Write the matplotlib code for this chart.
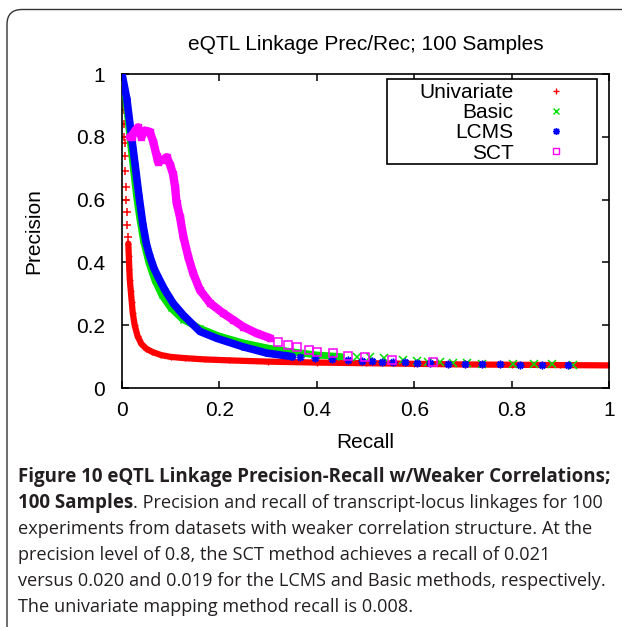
import matplotlib
matplotlib.use('Agg')
import matplotlib.pyplot as plt
from matplotlib.lines import Line2D
from matplotlib.patches import FancyBboxPatch, Rectangle
from matplotlib.transforms import IdentityTransform

# ==============================================================================
# DATA
# ==============================================================================
series_names = ['Univariate', 'Basic', 'LCMS', 'SCT']

# Univariate -- sparse points at the top, then dense band
uni_top_r = [0.002, 0.003, 0.004, 0.005, 0.005, 0.006, 0.007, 0.007, 0.008,
             0.009, 0.010, 0.011, 0.012]
uni_top_p = [0.960, 0.920, 0.885, 0.840, 0.800, 0.780, 0.740, 0.690, 0.640,
             0.600, 0.560, 0.520, 0.480]
uni_r = [0.013, 0.014, 0.015, 0.016, 0.018, 0.020, 0.022, 0.026, 0.032, 0.040,
         0.050, 0.062, 0.080, 0.100, 0.130, 0.170, 0.220, 0.300, 0.400, 0.500,
         0.600, 0.700, 0.800, 0.900, 1.000]
uni_p = [0.460, 0.420, 0.380, 0.345, 0.310, 0.275, 0.240, 0.200, 0.165, 0.140,
         0.125, 0.115, 0.105, 0.099, 0.095, 0.091, 0.088, 0.084, 0.081, 0.079,
         0.077, 0.075, 0.074, 0.073, 0.072]

# Basic -- dense band, then sparse tail
basic_r = [0.000, 0.004, 0.008, 0.016, 0.024, 0.030, 0.036, 0.044, 0.055, 0.067,
           0.082, 0.100, 0.125, 0.160, 0.200, 0.250, 0.300, 0.350, 0.400, 0.450]
basic_p = [1.000, 0.960, 0.920, 0.800, 0.690, 0.610, 0.545, 0.470, 0.400, 0.345,
           0.295, 0.255, 0.218, 0.190, 0.165, 0.143, 0.127, 0.115, 0.105, 0.100]
basic_tail_r = [0.482, 0.509, 0.537, 0.578, 0.605, 0.629, 0.653, 0.680, 0.708,
                0.739, 0.803, 0.845, 0.882, 0.927]
basic_tail_p = [0.100, 0.098, 0.094, 0.089, 0.087, 0.084, 0.083, 0.081, 0.079,
                0.076, 0.075, 0.075, 0.075, 0.073]

# LCMS -- dense band, then sparse tail
lcms_r = [0.000, 0.005, 0.010, 0.018, 0.027, 0.035, 0.043, 0.050, 0.057, 0.066,
          0.074, 0.088, 0.105, 0.126, 0.160, 0.195, 0.249, 0.298, 0.350]
lcms_p = [1.000, 0.960, 0.920, 0.820, 0.710, 0.610, 0.520, 0.460, 0.420, 0.380,
          0.354, 0.312, 0.270, 0.232, 0.180, 0.158, 0.131, 0.111, 0.100]
lcms_tail_r = [0.366, 0.396, 0.431, 0.465, 0.492, 0.513, 0.533, 0.557, 0.581,
               0.605, 0.632, 0.670, 0.704, 0.739, 0.776, 0.817, 0.862, 0.916]
lcms_tail_p = [0.098, 0.094, 0.091, 0.089, 0.087, 0.086, 0.084, 0.084, 0.082,
               0.081, 0.079, 0.077, 0.076, 0.076, 0.075, 0.074, 0.074, 0.073]

# SCT -- dense band, then sparse tail
sct_r = [0.016, 0.020, 0.027, 0.033, 0.040, 0.047, 0.057, 0.064, 0.071, 0.074,
         0.082, 0.092, 0.099, 0.105, 0.109, 0.112, 0.119, 0.126, 0.136, 0.146,
         0.160, 0.181, 0.207, 0.228, 0.249, 0.277, 0.304]
sct_p = [0.800, 0.800, 0.820, 0.830, 0.800, 0.820, 0.816, 0.785, 0.740, 0.720,
         0.726, 0.735, 0.710, 0.680, 0.640, 0.590, 0.545, 0.482, 0.418, 0.366,
         0.312, 0.270, 0.239, 0.217, 0.195, 0.174, 0.159]
sct_tail_r = [0.320, 0.340, 0.360, 0.383, 0.400, 0.434, 0.465, 0.499, 0.554, 0.639]
sct_tail_p = [0.145, 0.136, 0.130, 0.122, 0.115, 0.110, 0.103, 0.098, 0.089, 0.084]

ticks = [0, 0.2, 0.4, 0.6, 0.8, 1]
tick_labels = ['0', '0.2', '0.4', '0.6', '0.8', '1']

caption_bold_1 = 'Figure 10 eQTL Linkage Precision-Recall w/Weaker Correlations;'
caption_bold_2 = '100 Samples'
caption_lines = [
    '. Precision and recall of transcript-locus linkages for 100',
    'experiments from datasets with weaker correlation structure. At the',
    'precision level of 0.8, the SCT method achieves a recall of 0.021',
    'versus 0.020 and 0.019 for the LCMS and Basic methods, respectively.',
    'The univariate mapping method recall is 0.008.',
]

# ==============================================================================
# FIGURE
# ==============================================================================
W, H, DPI = 622, 627, 100
GP_FONT = 'Liberation Sans'
CAP_FONT = 'Open Sans'
CAP_COLOR = '#231f20'

fig = plt.figure(figsize=(W / DPI, H / DPI), dpi=DPI)
ax = fig.add_axes([122 / W, 1 - 388 / H, 487 / W, 314 / H])

colors = {'Univariate': '#ff0000', 'Basic': '#00e000',
          'LCMS': '#0000ff', 'SCT': '#ff00ff'}
markers = {'Univariate': '+', 'Basic': 'x', 'LCMS': (8, 2, 0), 'SCT': 's'}

def draw_band(r, p, name, lw, z):
    ax.plot(r, p, color=colors[name], lw=lw, solid_capstyle='round',
            solid_joinstyle='round', zorder=z)
    ax.plot(r, p, ls='none', marker=markers[name], ms=5, mew=1,
            mfc='none', color=colors[name], zorder=z)

def draw_points(r, p, name, z):
    ax.plot(r, p, ls='none', marker=markers[name], ms=5.5, mew=1.1,
            mfc='none', color=colors[name], zorder=z)

draw_points(uni_top_r, uni_top_p, 'Univariate', 2)
draw_band(uni_r, uni_p, 'Univariate', 4.5, 2)
draw_band(basic_r, basic_p, 'Basic', 5, 3)
draw_points(basic_tail_r, basic_tail_p, 'Basic', 3)
draw_band(lcms_r, lcms_p, 'LCMS', 5.5, 4)
draw_points(lcms_tail_r, lcms_tail_p, 'LCMS', 4)
draw_band(sct_r, sct_p, 'SCT', 6, 5)
draw_points(sct_tail_r, sct_tail_p, 'SCT', 5)

ax.set_xlim(0, 1)
ax.set_ylim(0, 1)
ax.set_xticks(ticks)
ax.set_xticklabels(tick_labels)
ax.set_yticks(ticks)
ax.set_yticklabels(tick_labels)
ax.tick_params(direction='in', top=True, right=True, length=5, width=1.1,
               labelsize=15, pad=9)
ax.tick_params(axis='y', pad=12)
for lab in ax.get_xticklabels() + ax.get_yticklabels():
    lab.set_fontfamily(GP_FONT)
for sp in ax.spines.values():
    sp.set_linewidth(1.2)

ax.set_xlabel('Recall', fontsize=15, fontfamily=GP_FONT, labelpad=10)
ax.set_ylabel('Precision', fontsize=15, fontfamily=GP_FONT)
ax.yaxis.set_label_coords((43 - 122) / 487, 0.5)
ax.set_title('eQTL Linkage Prec/Rec; 100 Samples', fontsize=15,
             fontfamily=GP_FONT, pad=17.5)

# ── key (gnuplot style: text right-aligned, marker on the right) ────────────
handles = [Line2D([], [], ls='none', marker=markers[n], ms=5, mew=1,
                  mfc='none', color=colors[n]) for n in series_names]
leg = ax.legend(handles, series_names, loc='upper right',
                bbox_to_anchor=((577 - 122) / 487, (388 - 83) / 314),
                borderaxespad=0, borderpad=0, markerfirst=False,
                frameon=False, handlelength=2, handletextpad=1.05,
                labelspacing=0.06, prop={'family': GP_FONT, 'size': 15})
ax.add_patch(Rectangle(((387 - 122) / 487, (388 - 164) / 314),
                       (597 - 387) / 487, (164 - 79) / 314,
                       transform=ax.transAxes, fill=True, facecolor='white',
                       edgecolor='black', lw=1.2, zorder=6))
leg.set_zorder(7)

# ── outer rounded frame ─────────────────────────────────────────────────────
frame = FancyBboxPatch((7, -40), 700, H - 9.5 + 40,
                       boxstyle='round,pad=0,rounding_size=15',
                       transform=IdentityTransform(), fill=False,
                       edgecolor='#333333', lw=1.0)
fig.patches.append(frame)

# ── caption ─────────────────────────────────────────────────────────────────
cap_x = 18 / W
line_y = [477, 503, 529, 555, 581, 607]
fig.text(cap_x, 1 - line_y[0] / H, caption_bold_1, fontfamily=CAP_FONT,
         fontweight='bold', fontsize=13.5, color=CAP_COLOR, va='center')
t2 = fig.text(cap_x, 1 - line_y[1] / H, caption_bold_2, fontfamily=CAP_FONT,
              fontweight='bold', fontsize=13.5, color=CAP_COLOR, va='center')
renderer = fig.canvas.get_renderer()
bb = t2.get_window_extent(renderer)
fig.text(bb.x1 / W, 1 - line_y[1] / H, caption_lines[0], fontfamily=CAP_FONT,
         fontsize=13.1, color=CAP_COLOR, va='center')
for txt, yy in zip(caption_lines[1:], line_y[2:]):
    fig.text(cap_x, 1 - yy / H, txt, fontfamily=CAP_FONT, fontsize=13.1,
             color=CAP_COLOR, va='center')

fig.savefig('out.png', dpi=DPI)
